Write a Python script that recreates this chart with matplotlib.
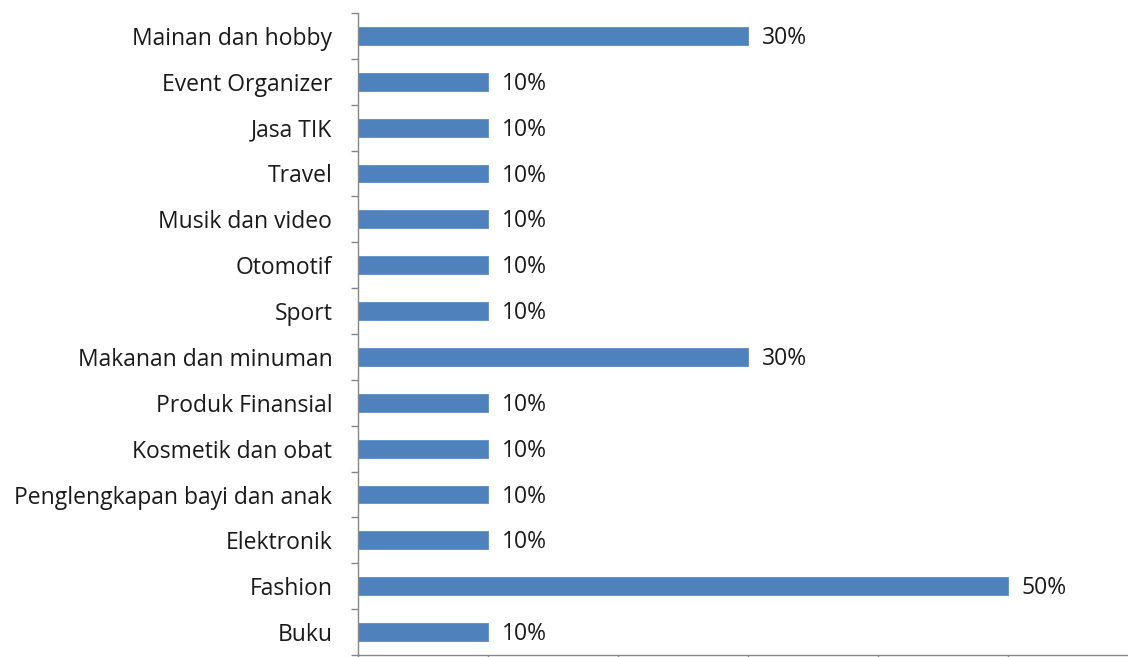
import numpy as np
import matplotlib.transforms as mtransforms
from matplotlib import pyplot as plt

categories = ['Buku', 'Fashion', 'Elektronik', 'Penglengkapan bayi dan anak',
              'Kosmetik dan obat', 'Produk Finansial', 'Makanan dan minuman',
              'Sport', 'Otomotif', 'Musik dan video', 'Travel', 'Jasa TIK',
              'Event Organizer', 'Mainan dan hobby']
values = [0.10, 0.50, 0.10, 0.10, 0.10, 0.10, 0.30,
          0.10, 0.10, 0.10, 0.10, 0.10, 0.10, 0.30]

plt.rcParams['font.family'] = ['Open Sans', 'DejaVu Sans']

fig = plt.figure(figsize=(11.28, 6.57), dpi=100)
ax = fig.add_axes([358 / 1128, 2 / 657, 1 - 358 / 1128, 642 / 657])

y = np.arange(len(categories))
ax.barh(y, values, height=0.39, color='#4F81BD', edgecolor='#5B8CC6', linewidth=0.6)

for yi, v in zip(y, values):
    ax.annotate('{:.0f}%'.format(v * 100), (v, yi), xytext=(10, -1.5),
                textcoords='offset points', va='center', ha='left',
                fontsize=16.5, color='#1a1a1a')

ax.set_ylim(-0.5, len(categories) - 0.5)
ax.set_xlim(0, (1128 - 358) / 1300)
ax.set_yticks(y)
ax.set_yticklabels(categories, fontsize=16.5, color='#1a1a1a')
# nudge the category labels down a little
shift = mtransforms.ScaledTranslation(0, -2 / 100, fig.dpi_scale_trans)
for lab in ax.get_yticklabels():
    lab.set_transform(lab.get_transform() + shift)
ax.set_yticks(np.arange(len(categories) + 1) - 0.5, minor=True)
ax.tick_params(axis='y', which='major', length=0, pad=18.5)
ax.tick_params(axis='y', which='minor', length=5, color='#868686', width=1)
ax.set_xticks(np.arange(0, 0.6, 0.1))
ax.set_xticklabels([])
ax.tick_params(axis='x', length=5, color='#868686', width=1)

for s in ['top', 'right']:
    ax.spines[s].set_visible(False)
for s in ['left', 'bottom']:
    ax.spines[s].set_color('#868686')
    ax.spines[s].set_linewidth(1)

fig.savefig('out.png', dpi=100)
